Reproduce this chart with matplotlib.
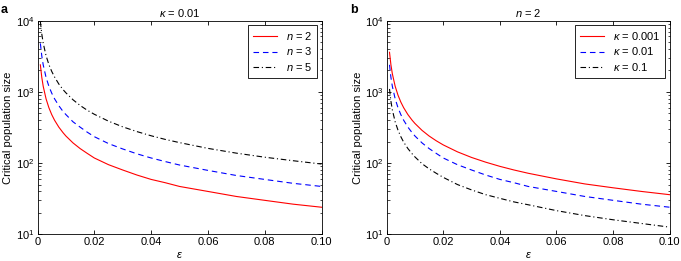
import matplotlib
matplotlib.use("Agg")
import matplotlib.pyplot as plt

plt.rcParams['font.family'] = ['Liberation Sans', 'DejaVu Sans']
plt.rcParams['mathtext.fontset'] = 'custom'
plt.rcParams['mathtext.rm'] = 'Liberation Sans'
plt.rcParams['mathtext.it'] = 'Liberation Sans:italic'

eps = [0.001, 0.0015, 0.002, 0.003, 0.004, 0.005, 0.006, 0.0075, 0.009, 0.01,
       0.0125, 0.015, 0.0175, 0.02, 0.025, 0.03, 0.035, 0.04, 0.045, 0.05,
       0.06, 0.07, 0.08, 0.09, 0.10]

# panel a: kappa = 0.01
n2 = [2400, 1600, 1200, 800, 600, 480, 400, 320, 267, 240, 192, 160, 137, 118,
      95, 80, 68, 59, 53, 47, 40, 34, 30, 26.5, 24]
n3 = [4800, 3200, 2400, 1600, 1200, 960, 800, 640, 530, 480, 380, 320, 272, 235,
      188, 158, 135, 118, 105, 94, 79, 67, 59, 52, 47]
n5 = [9700, 6500, 4850, 3230, 2420, 1940, 1620, 1290, 1075, 970, 775, 645, 553, 485,
      388, 323, 277, 242, 215, 194, 161, 138, 121, 108, 97]

# panel b: n = 2
k0001 = [3600, 2400, 1800, 1200, 900, 720, 600, 480, 400, 360, 288, 240, 206, 180,
         144, 120, 103, 90, 80, 72, 60, 51, 45, 40, 36]
k001 = [2400, 1600, 1200, 800, 600, 480, 400, 320, 267, 240, 192, 160, 137, 118,
        95, 80, 68, 59, 53, 47, 40, 34, 30, 26.5, 24]
k01 = [1100, 740, 560, 380, 290, 235, 197, 160, 135, 122, 98, 83, 72, 63,
       50, 42, 36, 32, 28.5, 26, 21.5, 18.3, 16, 14.2, 12.6]

xticks = [0, 0.02, 0.04, 0.06, 0.08, 0.10]
xticklabels = ['0', '0.02', '0.04', '0.06', '0.08', '0.10']

fig = plt.figure(figsize=(6.81, 2.61), dpi=100)
ax1 = fig.add_axes([0.0551, 0.1023, 0.4170, 0.8184])
ax2 = fig.add_axes([0.5678, 0.1023, 0.4156, 0.8184])

dashdot = (0, (5, 2.5, 1, 2.5))
dashed = (0, (5, 3.5))

ax1.plot(eps, n2, color='red', lw=0.8, ls='-', label='$n$ = 2')
ax1.plot(eps, n3, color='blue', lw=0.8, ls=dashed, label='$n$ = 3')
ax1.plot(eps, n5, color='black', lw=0.8, ls=dashdot, label='$n$ = 5')
ax1.set_title('$\\kappa$ = 0.01', fontsize=8, pad=3)

ax2.plot(eps, k0001, color='red', lw=0.8, ls='-', label='$\\kappa$ = 0.001')
ax2.plot(eps, k001, color='blue', lw=0.8, ls=dashed, label='$\\kappa$ = 0.01')
ax2.plot(eps, k01, color='black', lw=0.8, ls=dashdot, label='$\\kappa$ = 0.1')
ax2.set_title('$n$ = 2', fontsize=8, pad=3)

for ax, lab in [(ax1, 'a'), (ax2, 'b')]:
    ax.set_yscale('log')
    ax.set_xlim(0, 0.10)
    ax.set_ylim(10, 10000)
    ax.set_xticks(xticks)
    ax.set_xticklabels(xticklabels)
    ax.tick_params(which='both', direction='in', top=True, right=True, labelsize=8, pad=2)
    ax.tick_params(which='major', length=3, width=0.6)
    ax.tick_params(which='minor', length=1.8, width=0.5)
    for s in ax.spines.values():
        s.set_linewidth(0.6)
    ax.set_xlabel('$\\varepsilon$', fontsize=8, labelpad=2)
    ax.set_ylabel('Critical population size', fontsize=8, labelpad=2)
    leg = ax.legend(loc='upper right', fontsize=8, fancybox=False, framealpha=1,
                    edgecolor='black', handlelength=2.2, borderaxespad=0.4,
                    labelspacing=0.35)
    leg.get_frame().set_linewidth(0.6)
    ax.text(-0.13, 1.02, lab, transform=ax.transAxes, fontsize=9, fontweight='bold',
            va='bottom', ha='left')

fig.savefig('out.png', dpi=100)
